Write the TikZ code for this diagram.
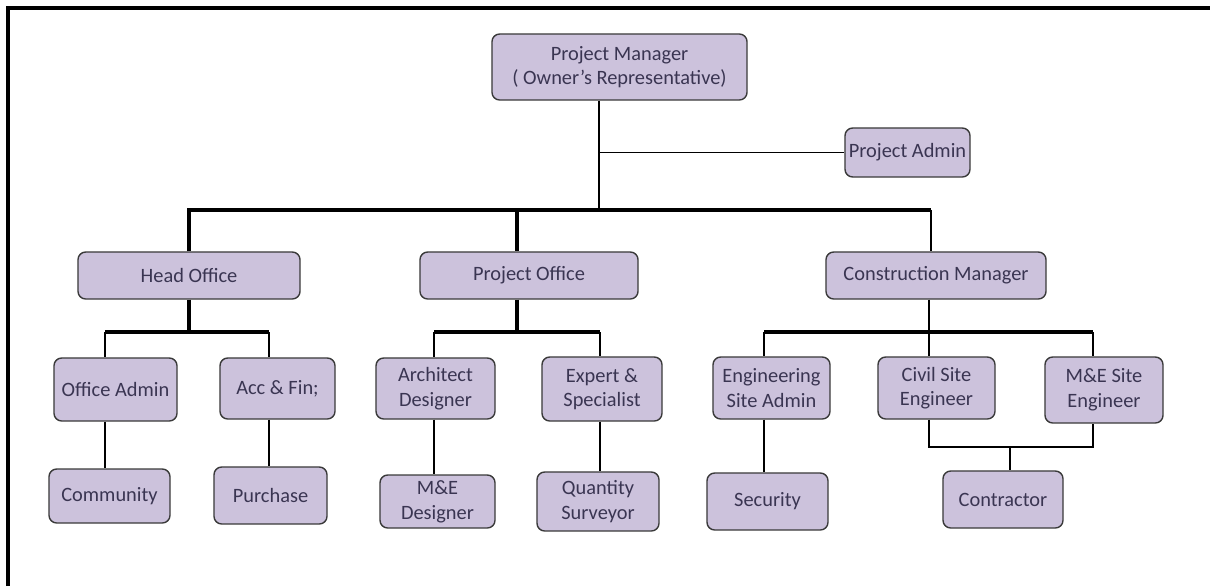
\documentclass[tikz,border=0pt]{standalone}
\usepackage{fontspec}
\setmainfont{Carlito}
\usepackage{tikz}
\usetikzlibrary{calc}
\definecolor{boxfill}{HTML}{CCC2DC}
\definecolor{boxline}{HTML}{3A3A3A}
\definecolor{boxtext}{HTML}{3A3552}

\begin{document}
\begin{tikzpicture}[x=0.025cm,y=-0.025cm]
   \useasboundingbox (0,0) rectangle (1210,586);
   \tikzstyle{unit}=[draw=boxline, line width=1pt, fill=boxfill, rounded corners=5.5pt, align=center, inner sep=1pt, text=boxtext, font=\fontsize{14.5}{17.5}\selectfont]
   \tikzstyle{link}=[line width=1.1pt]
   \tikzstyle{bus}=[line width=2.2pt]
   \draw[bus] (8,586) -- (8,8) -- (1210,8);
   \node[unit, minimum width=6.375cm, minimum height=1.65cm] (pm) at (619.5,67) {Project Manager\\( Owner's Representative)};
   \node[unit, minimum width=3.125cm, minimum height=1.225cm] (padmin) at (907.5,152.5) {Project Admin};
   \node[unit, minimum width=5.55cm, minimum height=1.175cm] (hoffice) at (189,275.5) {Head Office};
   \node[unit, minimum width=5.45cm, minimum height=1.175cm] (poffice) at (529,275.5) {Project Office};
   \node[unit, minimum width=5.5cm, minimum height=1.175cm] (cmanager) at (936,275.5) {Construction Manager};
   \node[unit, minimum width=3.075cm, minimum height=1.575cm] (oadmin) at (115.5,389.5) {Office Admin};
   \node[unit, minimum width=2.875cm, minimum height=1.525cm] (accfin) at (277.5,388.5) {Acc \& Fin;};
   \node[unit, minimum width=2.975cm, minimum height=1.525cm] (architect) at (435.5,388.5) {Architect\\Designer};
   \node[unit, minimum width=3.0cm, minimum height=1.6cm] (expert) at (602,389) {Expert \&\\Specialist};
   \node[unit, minimum width=2.925cm, minimum height=1.55cm] (esadmin) at (771.5,388) {Engineering\\Site Admin};
   \node[unit, minimum width=2.925cm, minimum height=1.55cm] (civil) at (936.5,388) {Civil Site\\Engineer};
   \node[unit, minimum width=2.95cm, minimum height=1.65cm] (mesite) at (1104,390) {M\&E Site\\Engineer};
   \node[unit, minimum width=3.025cm, minimum height=1.35cm] (community) at (109.5,496) {Community};
   \node[unit, minimum width=2.825cm, minimum height=1.425cm] (purchase) at (270.5,495.5) {Purchase};
   \node[unit, minimum width=2.875cm, minimum height=1.325cm] (medesigner) at (437.5,501.5) {M\&E\\Designer};
   \node[unit, minimum width=3.05cm, minimum height=1.475cm] (qsurveyor) at (598,501.5) {Quantity\\Surveyor};
   \node[unit, minimum width=3.025cm, minimum height=1.425cm] (security) at (767.5,501.5) {Security};
   \node[unit, minimum width=3.0cm, minimum height=1.425cm] (contractor) at (1003,499.5) {Contractor};
   \coordinate (top) at (599,210);
   \coordinate (po) at (517,210);
   \coordinate (cm) at (931,210);
   \draw[link] (pm.south -| top) -- (top);
   \draw[link] (top |- padmin.west) -- (padmin.west);
   \draw[bus] (hoffice.north) -- (hoffice.north |- top) -- (cm);
   \draw[bus] (po) -- (po |- poffice.north);
   \draw[link] (cm) -- (cm |- cmanager.north);
   \coordinate (hoL) at (105,332);
   \coordinate (hoR) at (269,332);
   \draw[bus] (hoffice.south) -- (hoffice.south |- hoL);
   \draw[bus] (hoL) -- (hoR);
   \draw[link] (hoL) -- (hoL |- oadmin.north);
   \draw[link] (hoR) -- (hoR |- accfin.north);
   \draw[link] (hoL |- oadmin.south) -- (hoL |- community.north);
   \draw[link] (hoR |- accfin.south) -- (hoR |- purchase.north);
   \coordinate (poL) at (434,332);
   \coordinate (poR) at (600,332);
   \draw[bus] (po |- poffice.south) -- (po |- poL);
   \draw[bus] (poL) -- (poR);
   \draw[link] (poL) -- (poL |- architect.north);
   \draw[link] (poR) -- (poR |- expert.north);
   \draw[link] (poL |- architect.south) -- (poL |- medesigner.north);
   \draw[link] (poR |- expert.south) -- (poR |- qsurveyor.north);
   \coordinate (cmL) at (764,332);
   \coordinate (cmM) at (929,332);
   \coordinate (cmR) at (1093,332);
   \draw[link] (cmM |- cmanager.south) -- (cmM);
   \draw[bus] (cmL) -- (cmR);
   \draw[link] (cmL) -- (cmL |- esadmin.north);
   \draw[link] (cmM) -- (cmM |- civil.north);
   \draw[link] (cmR) -- (cmR |- mesite.north);
   \draw[link] (cmL |- esadmin.south) -- (cmL |- security.north);
   \coordinate (ctL) at (929,447);
   \coordinate (ctR) at (1093,447);
   \coordinate (ct) at (1010,447);
   \draw[link] (ctL |- civil.south) -- (ctL) -- (ctR) -- (ctR |- mesite.south);
   \draw[link] (ct) -- (ct |- contractor.north);
\end{tikzpicture}
\end{document}
